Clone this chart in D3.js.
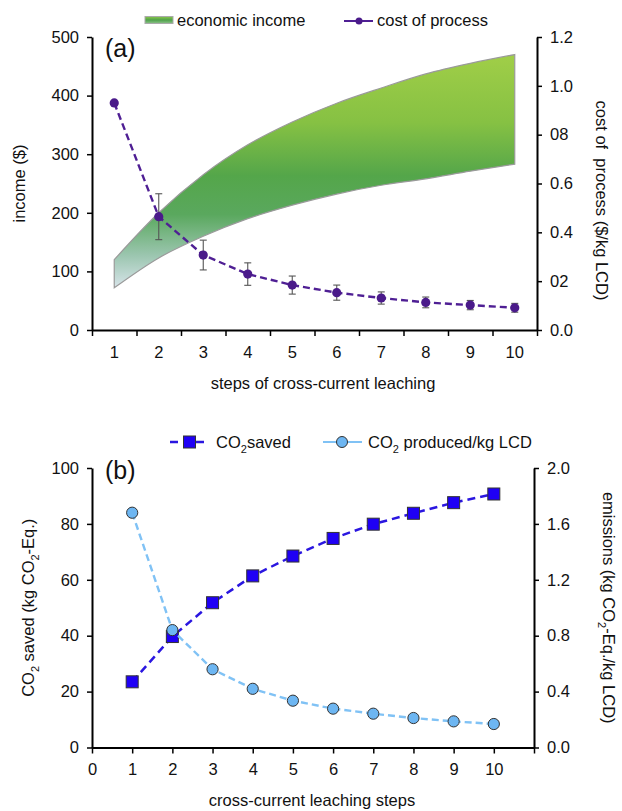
<!DOCTYPE html>
<html>
<head>
<meta charset="utf-8">
<script src="https://cdn.jsdelivr.net/npm/d3@7"></script>
<style>
  body { margin: 0; background: #fff; }
  svg { display: block; font-family: "Liberation Sans", Arial, sans-serif; }
  .axis path, .axis line { stroke: #000; }
  .axis path { stroke-width: 2px; }
  .axis line { stroke-width: 1.5px; }
  .axis text { font-size: 16.5px; fill: #111; font-family: "Liberation Sans", Arial, sans-serif; }
  .title { font-size: 16.5px; fill: #111; }
</style>
</head>
<body>
<svg id="chart"></svg>
<script>
const width = 622;
const height = 811;

// panel (a) data
const steps = [1, 2, 3, 4, 5, 6, 7, 8, 9, 10];
const incomeLow = [72, 123, 160, 190, 213, 232, 247, 258, 271, 283];
const incomeHigh = [120, 200, 265, 316, 355, 387, 413, 437, 455, 470];
const cost = [0.93, 0.464, 0.307, 0.229, 0.184, 0.153, 0.131, 0.113, 0.102, 0.091];
const costErr = [0, 0.094, 0.061, 0.046, 0.037, 0.031, 0.025, 0.022, 0.019, 0.018];
const incomeTicks = [0, 100, 200, 300, 400, 500];
const costTicks = [0, 0.2, 0.4, 0.6, 0.8, 1.0, 1.2];
const costTickLabels = ['0.0', '02', '0.4', '0.6', '08', '1.0', '1.2'];

// panel (b) data
const co2Saved = [23.5, 39.7, 51.8, 61.4, 68.5, 74.8, 79.9, 83.8, 87.6, 90.7];
const co2Produced = [1.68, 0.84, 0.56, 0.42, 0.335, 0.278, 0.242, 0.211, 0.187, 0.168];
const savedTicks = [0, 20, 40, 60, 80, 100];
const emissionTicks = [0, 0.4, 0.8, 1.2, 1.6, 2.0];
const stepTicks = [0, 1, 2, 3, 4, 5, 6, 7, 8, 9, 10, 11];

const svg = d3.select("#chart")
    .attr("width", width)
    .attr("height", height);

// Gradient for the income band
const defs = svg.append("defs");
const grad = defs.append("linearGradient")
    .attr("id", "incomeGrad")
    .attr("gradientUnits", "userSpaceOnUse")
    .attr("x1", 0).attr("x2", 0)
    .attr("y1", 50).attr("y2", 292);
[[0, "#a2cf48"], [0.3, "#86c143"], [0.52, "#54a64a"], [0.68, "#5aa85e"], [0.85, "#9cc6b0"], [1, "#dfe8f1"]]
    .forEach(s => grad.append("stop").attr("offset", s[0]).attr("stop-color", s[1]));

const legGrad = defs.append("linearGradient")
    .attr("id", "legGrad")
    .attr("x1", 0).attr("x2", 0).attr("y1", 0).attr("y2", 1);
[[0, "#8cc64a"], [0.5, "#4fa24a"], [1, "#8cc08a"]]
    .forEach(s => legGrad.append("stop").attr("offset", s[0]).attr("stop-color", s[1]));

// ---------------- Panel (a) ----------------
const a = {left: 92, right: 537, top: 37, bottom: 330};

const xA = d3.scaleBand().domain(steps).range([a.left, a.right]);
const xAEdge = d3.scaleLinear().domain([0.5, 10.5]).range([a.left, a.right]);
const yA = d3.scaleLinear().domain([0, 500]).range([a.bottom, a.top]);
const yA2 = d3.scaleLinear().domain([0, 1.2]).range([a.bottom, a.top]);
const cx = d => xA(d) + xA.bandwidth() / 2;

const bandData = steps.map((s, i) => ({step: s, lo: incomeLow[i], hi: incomeHigh[i]}));

svg.append("path")
    .datum(bandData)
    .attr("d", d3.area()
        .x(d => cx(d.step))
        .y0(d => yA(d.lo))
        .y1(d => yA(d.hi))
        .curve(d3.curveMonotoneX))
    .attr("fill", "url(#incomeGrad)")
    .attr("stroke", "#9a9a9a")
    .attr("stroke-width", 1.2);

// axes (a)
svg.append("g").attr("class", "axis")
    .attr("transform", `translate(${a.left},0)`)
    .call(d3.axisLeft(yA).tickValues(incomeTicks).tickSize(5).tickSizeOuter(0).tickPadding(8));

svg.append("g").attr("class", "axis")
    .attr("transform", `translate(${a.right},0)`)
    .call(d3.axisRight(yA2).tickValues(costTicks).tickSize(5).tickSizeOuter(0).tickPadding(8)
        .tickFormat((d, i) => costTickLabels[i]));

svg.append("g").attr("class", "axis")
    .attr("transform", `translate(0,${a.bottom})`)
    .call(d3.axisBottom(xAEdge).tickValues(d3.range(0.5, 11, 1)).tickSize(6).tickSizeOuter(0).tickFormat(""));

svg.append("g").attr("class", "axis")
    .attr("transform", `translate(0,${a.bottom})`)
    .call(d3.axisBottom(xA).tickSize(0).tickPadding(16))
    .call(g => g.select(".domain").remove());

// cost line
const costData = steps.map((s, i) => ({step: s, v: cost[i], e: costErr[i]}));

svg.append("path")
    .datum(costData)
    .attr("d", d3.line().x(d => cx(d.step)).y(d => yA2(d.v)))
    .attr("fill", "none")
    .attr("stroke", "#4f1f94")
    .attr("stroke-width", 2.4)
    .attr("stroke-dasharray", "7,4");

const errG = svg.append("g").attr("stroke", "#555").attr("stroke-width", 1.1);
costData.filter(d => d.e > 0).forEach(d => {
    const x = cx(d.step);
    errG.append("line").attr("x1", x).attr("x2", x).attr("y1", yA2(d.v - d.e)).attr("y2", yA2(d.v + d.e));
    errG.append("line").attr("x1", x - 3.5).attr("x2", x + 3.5).attr("y1", yA2(d.v + d.e)).attr("y2", yA2(d.v + d.e));
    errG.append("line").attr("x1", x - 3.5).attr("x2", x + 3.5).attr("y1", yA2(d.v - d.e)).attr("y2", yA2(d.v - d.e));
});

svg.append("g").selectAll("circle")
    .data(costData)
    .join("circle")
    .attr("cx", d => cx(d.step))
    .attr("cy", d => yA2(d.v))
    .attr("r", 4.6)
    .attr("fill", "#4a1a8a");

// labels (a)
svg.append("text").attr("x", 105).attr("y", 57).style("font-size", "25px").attr("fill", "#111").text("(a)");

svg.append("text").attr("class", "title")
    .attr("transform", `translate(25,${(a.top + a.bottom) / 2}) rotate(-90)`)
    .attr("text-anchor", "middle").text("income ($)");

svg.append("text").attr("class", "title")
    .attr("transform", `translate(596,${(a.top + a.bottom) / 2 + 17}) rotate(90)`)
    .attr("text-anchor", "middle").attr("xml:space", "preserve").text("cost of  process ($/kg LCD)");

svg.append("text").attr("class", "title")
    .attr("x", 323).attr("y", 389)
    .attr("text-anchor", "middle").text("steps of cross-current leaching");

// legend (a)
svg.append("rect").attr("x", 145).attr("y", 16.5).attr("width", 28).attr("height", 7)
    .attr("fill", "url(#legGrad)").attr("stroke", "#aaa").attr("stroke-width", 1);
svg.append("text").attr("class", "title").attr("x", 177).attr("y", 26).text("economic income");
svg.append("line").attr("x1", 344).attr("x2", 373).attr("y1", 21).attr("y2", 21)
    .attr("stroke", "#4f1f94").attr("stroke-width", 2);
svg.append("circle").attr("cx", 359).attr("cy", 21).attr("r", 3.5).attr("fill", "#4a1a8a");
svg.append("text").attr("class", "title").attr("x", 377).attr("y", 26).text("cost of process");

// ---------------- Panel (b) ----------------
const b = {left: 92, right: 534, top: 468, bottom: 747.5};

const xB = d3.scaleLinear().domain([0, 11]).range([b.left, b.right]);
const yB = d3.scaleLinear().domain([0, 100]).range([b.bottom, b.top]);
const yB2 = d3.scaleLinear().domain([0, 2]).range([b.bottom, b.top]);

svg.append("g").attr("class", "axis")
    .attr("transform", `translate(${b.left},0)`)
    .call(d3.axisLeft(yB).tickValues(savedTicks).tickSize(5).tickSizeOuter(0).tickPadding(8));

svg.append("g").attr("class", "axis")
    .attr("transform", `translate(${b.right},0)`)
    .call(d3.axisRight(yB2).tickValues(emissionTicks).tickSize(5).tickSizeOuter(0).tickPadding(8)
        .tickFormat(d3.format(".1f")));

svg.append("g").attr("class", "axis")
    .attr("transform", `translate(0,${b.bottom})`)
    .call(d3.axisBottom(xB).tickValues(stepTicks).tickSize(6).tickSizeOuter(0).tickPadding(10)
        .tickFormat(d => d <= 10 ? d : ""));

const savedData = steps.map((s, i) => ({step: s, v: co2Saved[i]}));
const prodData = steps.map((s, i) => ({step: s, v: co2Produced[i]}));

svg.append("path")
    .datum(savedData)
    .attr("d", d3.line().x(d => xB(d.step)).y(d => yB(d.v)))
    .attr("fill", "none")
    .attr("stroke", "#2a16e0")
    .attr("stroke-width", 2.5)
    .attr("stroke-dasharray", "8,5");

svg.append("g").selectAll("rect")
    .data(savedData)
    .join("rect")
    .attr("x", d => xB(d.step) - 6)
    .attr("y", d => yB(d.v) - 6)
    .attr("width", 12).attr("height", 12)
    .attr("fill", "#1f00f5")
    .attr("stroke", "#333")
    .attr("stroke-width", 1);

svg.append("path")
    .datum(prodData)
    .attr("d", d3.line().x(d => xB(d.step)).y(d => yB2(d.v)))
    .attr("fill", "none")
    .attr("stroke", "#80c2f5")
    .attr("stroke-width", 2.4)
    .attr("stroke-dasharray", "7,4");

svg.append("g").selectAll("circle")
    .data(prodData)
    .join("circle")
    .attr("cx", d => xB(d.step))
    .attr("cy", d => yB2(d.v))
    .attr("r", 5.6)
    .attr("fill", "#6db6f2")
    .attr("stroke", "#333")
    .attr("stroke-width", 1);

// labels (b)
svg.append("text").attr("x", 105).attr("y", 479).style("font-size", "25px").attr("fill", "#111").text("(b)");

const leftB = svg.append("text").attr("class", "title")
    .attr("transform", `translate(34,${(b.top + b.bottom) / 2}) rotate(-90)`)
    .attr("text-anchor", "middle");
leftB.append("tspan").text("CO");
leftB.append("tspan").attr("dy", 5).style("font-size", "11px").text("2");
leftB.append("tspan").attr("dy", -5).text(" saved (kg CO");
leftB.append("tspan").attr("dy", 5).style("font-size", "11px").text("2");
leftB.append("tspan").attr("dy", -5).text("-Eq.)");

const rightB = svg.append("text").attr("class", "title")
    .attr("transform", `translate(603,${(b.top + b.bottom) / 2}) rotate(90)`)
    .attr("text-anchor", "middle");
rightB.append("tspan").text("emissions (kg CO");
rightB.append("tspan").attr("dy", 5).style("font-size", "11px").text("2");
rightB.append("tspan").attr("dy", -5).text("-Eq./kg LCD)");

svg.append("text").attr("class", "title")
    .attr("x", 312).attr("y", 806)
    .attr("text-anchor", "middle").text("cross-current leaching steps");

// legend (b)
svg.append("line").attr("x1", 170).attr("x2", 208).attr("y1", 442).attr("y2", 442)
    .attr("stroke", "#2a16e0").attr("stroke-width", 2.5).attr("stroke-dasharray", "8,5");
svg.append("rect").attr("x", 183.5).attr("y", 436).attr("width", 12).attr("height", 12)
    .attr("fill", "#1f00f5").attr("stroke", "#333");
const legS = svg.append("text").attr("class", "title").attr("x", 216).attr("y", 448);
legS.append("tspan").text("CO");
legS.append("tspan").attr("dy", 5).style("font-size", "11px").text("2");
legS.append("tspan").attr("dy", -5).text("saved");

svg.append("line").attr("x1", 323).attr("x2", 362).attr("y1", 442).attr("y2", 442)
    .attr("stroke", "#80c2f5").attr("stroke-width", 2.2);
svg.append("circle").attr("cx", 342).attr("cy", 442).attr("r", 5.5)
    .attr("fill", "#6db6f2").attr("stroke", "#333");
const legP = svg.append("text").attr("class", "title").attr("x", 368).attr("y", 448);
legP.append("tspan").text("CO");
legP.append("tspan").attr("dy", 5).style("font-size", "11px").text("2");
legP.append("tspan").attr("dy", -5).text(" produced/kg LCD");
</script>
</body>
</html>
